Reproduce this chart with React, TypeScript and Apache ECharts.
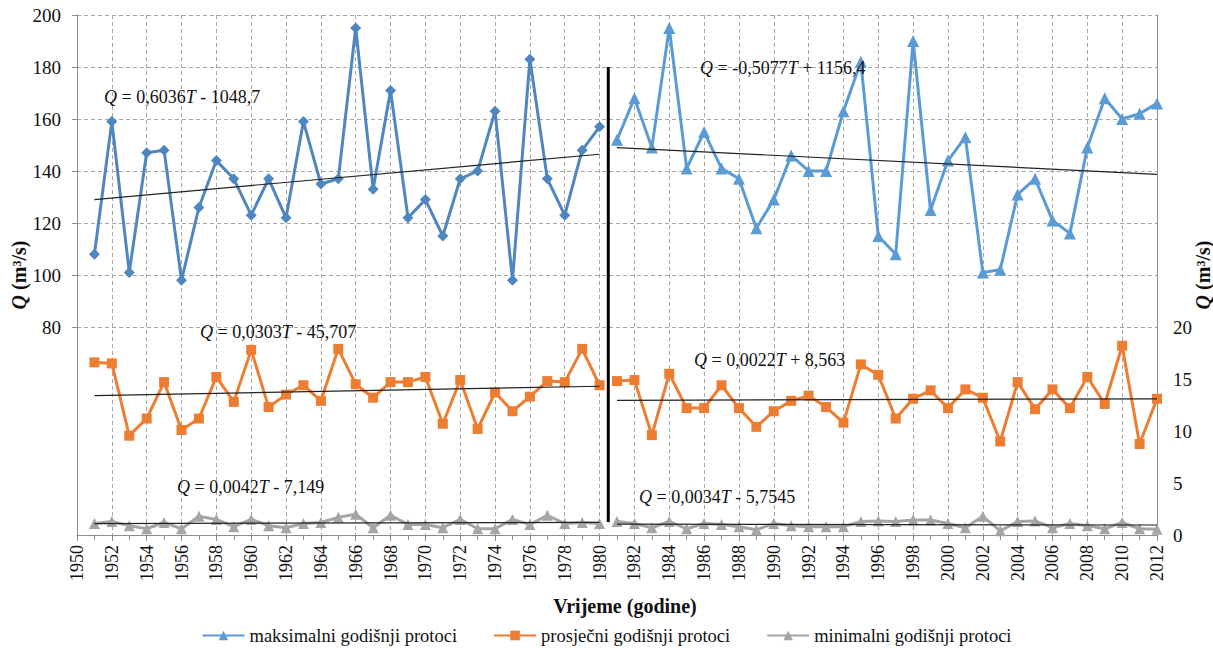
import React, { useEffect, useRef } from "react";
import * as echarts from "echarts";

const yearsA = [1951, 1952, 1953, 1954, 1955, 1956, 1957, 1958, 1959, 1960, 1961, 1962, 1963, 1964, 1965, 1966, 1967, 1968, 1969, 1970, 1971, 1972, 1973, 1974, 1975, 1976, 1977, 1978, 1979, 1980];
const yearsB = [1981, 1982, 1983, 1984, 1985, 1986, 1987, 1988, 1989, 1990, 1991, 1992, 1993, 1994, 1995, 1996, 1997, 1998, 1999, 2000, 2001, 2002, 2003, 2004, 2005, 2006, 2007, 2008, 2009, 2010, 2011, 2012];

const maxA = [108, 159, 101, 147, 148, 98, 126, 144, 137, 123, 137, 122, 159, 135, 137, 195, 133, 171, 122, 129, 115, 137, 140, 163, 98, 183, 137, 123, 148, 157];
const maxB = [152, 168, 149, 195, 141, 155, 141, 137, 118, 129, 146, 140, 140, 163, 182, 115, 108, 190, 125, 144, 153, 101, 102, 131, 137, 121, 116, 149, 168, 160, 162, 166];
const avgA = [16.6, 16.5, 9.55, 11.2, 14.7, 10.1, 11.2, 15.2, 12.8, 17.8, 12.3, 13.5, 14.4, 12.9, 17.9, 14.5, 13.2, 14.7, 14.7, 15.2, 10.7, 14.9, 10.2, 13.7, 11.9, 13.3, 14.8, 14.7, 17.9, 14.4];
const avgB = [14.8, 14.9, 9.6, 15.5, 12.2, 12.2, 14.4, 12.2, 10.4, 11.9, 12.9, 13.4, 12.3, 10.8, 16.4, 15.4, 11.2, 13.1, 13.9, 12.2, 14.0, 13.2, 9.0, 14.7, 12.1, 14.0, 12.2, 15.2, 12.6, 18.2, 8.75, 13.1];
const minA = [1.1, 1.3, 0.9, 0.6, 1.2, 0.6, 1.8, 1.5, 0.8, 1.5, 0.9, 0.7, 1.1, 1.2, 1.7, 2.0, 0.7, 1.9, 1.0, 1.0, 0.7, 1.5, 0.6, 0.6, 1.5, 1.0, 1.9, 1.1, 1.2, 1.1];
const minB = [1.3, 1.1, 0.7, 1.3, 0.6, 1.1, 1.0, 0.8, 0.5, 1.1, 0.9, 0.8, 0.8, 0.8, 1.3, 1.35, 1.3, 1.45, 1.45, 1.1, 0.7, 1.8, 0.4, 1.3, 1.35, 0.7, 1.1, 0.9, 0.6, 1.2, 0.6, 0.55];

const divider = { year: 1980.5, from: 180, to: 5 };

const equations = [
  "{i|Q} = 0,6036{i|T} - 1048,7",
  "{i|Q} = -0,5077{i|T} + 1156,4",
  "{i|Q} = 0,0303{i|T} - 45,707",
  "{i|Q} = 0,0022{i|T} + 8,563",
  "{i|Q} = 0,0042{i|T} - 7,149",
  "{i|Q} = 0,0034{i|T} - 5,7545",
];

const NAME_MAX = "maksimalni godišnji protoci";
const NAME_AVG = "prosječni godišnji protoci";
const NAME_MIN = "minimalni godišnji protoci";

const FONT = "Liberation Serif";

function pairs(xs: number[], ys: number[]) {
  return xs.map((x, i) => [x, ys[i]]);
}

function trend(xs: number[], ys: number[]) {
  const n = xs.length;
  const mx = xs.reduce((a, b) => a + b, 0) / n;
  const my = ys.reduce((a, b) => a + b, 0) / n;
  let sxy = 0;
  let sxx = 0;
  for (let i = 0; i < n; i++) {
    sxy += (xs[i] - mx) * (ys[i] - my);
    sxx += (xs[i] - mx) * (xs[i] - mx);
  }
  const b = sxy / sxx;
  const a = my - b * mx;
  const x0 = xs[0];
  const x1 = xs[n - 1];
  return [
    [x0, a + b * x0],
    [x1, a + b * x1],
  ];
}

export default function App() {
  const ref = useRef<HTMLDivElement>(null);

  useEffect(() => {
    if (!ref.current) return;
    const chart = echarts.init(ref.current, null, { renderer: "svg" });

    const lineSeries = (name: string, data: any[], yAxisIndex: number, color: string, symbol: string, symbolSize: number) => ({
      type: "line",
      name,
      data,
      yAxisIndex,
      color,
      symbol,
      symbolSize,
      showAllSymbol: true,
      lineStyle: { width: 3, color },
      itemStyle: { color },
      z: 3,
    });

    const trendSeries = (xs: number[], ys: number[], yAxisIndex: number) => ({
      type: "line",
      name: "trend",
      data: trend(xs, ys),
      yAxisIndex,
      symbol: "none",
      lineStyle: { width: 1.2, color: "#222" },
      z: 4,
      silent: true,
    });

    const eqText = (text: string, x: number, y: number) => ({
      type: "text",
      x,
      y,
      z: 10,
      style: {
        text,
        fontFamily: FONT,
        fontSize: 18,
        fill: "#111",
        verticalAlign: "middle",
        rich: {
          i: { fontStyle: "italic", fontFamily: FONT, fontSize: 18, fill: "#111" },
        },
      },
    });

    const axisName = {
      fontFamily: FONT,
      fontSize: 20,
      fontWeight: "bold",
      color: "#111",
      rich: {
        i: { fontStyle: "italic", fontWeight: "bold", fontFamily: FONT, fontSize: 20, color: "#111" },
      },
    };

    chart.setOption({
      animation: false,
      backgroundColor: "#ffffff",
      textStyle: { fontFamily: FONT },
      grid: { left: 77, right: 56, top: 15, height: 520, containLabel: false, outerBoundsMode: "none" },
      legend: {
        data: [NAME_MAX, NAME_AVG, NAME_MIN],
        left: "center",
        top: 621,
        itemWidth: 42,
        itemHeight: 12,
        itemGap: 36,
        textStyle: { fontFamily: FONT, fontSize: 18.5, color: "#111" },
      },
      xAxis: {
        type: "value",
        min: 1950,
        max: 2012,
        interval: 2,
        name: "Vrijeme (godine)",
        nameLocation: "middle",
        nameGap: 61,
        nameMoveOverlap: false,
        nameTextStyle: { fontFamily: FONT, fontSize: 20, fontWeight: "bold", color: "#111", padding: [0, 0, 0, 16] },
        axisLine: { show: true, lineStyle: { color: "#8c8c8c", width: 1 } },
        axisTick: { show: true, length: 6, lineStyle: { color: "#8c8c8c" } },
        minorTick: { show: true, splitNumber: 2, length: 5, lineStyle: { color: "#8c8c8c" } },
        axisLabel: {
          rotate: 90,
          margin: 10,
          fontFamily: FONT,
          fontSize: 18,
          color: "#111",
          formatter: (v: number) => String(v),
        },
        splitLine: { show: true, lineStyle: { color: "#a6a6a6", type: [4, 3], width: 1 } },
      },
      yAxis: [
        {
          type: "value",
          min: 0,
          max: 200,
          interval: 20,
          position: "left",
          name: "{i|Q} (m³/s)",
          nameLocation: "middle",
          nameRotate: 90,
          nameGap: 48,
          nameMoveOverlap: false,
          nameTextStyle: axisName,
          axisLine: { show: true, lineStyle: { color: "#8c8c8c", width: 1 } },
          axisTick: { show: true, length: 5, lineStyle: { color: "#8c8c8c" }, customValues: [80, 100, 120, 140, 160, 180, 200] },
          axisLabel: {
            margin: 16,
            fontFamily: FONT,
            fontSize: 19,
            color: "#111",
            formatter: (v: number) => (v >= 80 ? String(v) : ""),
          },
          splitLine: { show: true, lineStyle: { color: "#a6a6a6", type: [4, 3], width: 1 } },
        },
        {
          type: "value",
          min: 0,
          max: 50,
          interval: 5,
          position: "right",
          name: "{i|Q} (m³/s)",
          nameLocation: "middle",
          nameRotate: 90,
          nameGap: 36,
          nameMoveOverlap: false,
          nameTextStyle: axisName,
          axisLine: { show: true, lineStyle: { color: "#8c8c8c", width: 1 } },
          axisTick: { show: false },
          axisLabel: {
            margin: 16,
            fontFamily: FONT,
            fontSize: 19,
            color: "#111",
            formatter: (v: number) => (v <= 20 ? String(v) : ""),
          },
          splitLine: { show: false },
        },
      ],
      series: [
        lineSeries(NAME_MAX, pairs(yearsB, maxB), 0, "#5b9bd5", "triangle", 12),
        lineSeries("max1951", pairs(yearsA, maxA), 0, "#4f86bf", "diamond", 11),
        lineSeries(NAME_AVG, pairs(yearsA, avgA), 1, "#ed7d31", "rect", 10),
        lineSeries(NAME_AVG, pairs(yearsB, avgB), 1, "#ed7d31", "rect", 10),
        lineSeries(NAME_MIN, pairs(yearsA, minA), 1, "#a5a5a5", "triangle", 11),
        lineSeries(NAME_MIN, pairs(yearsB, minB), 1, "#a5a5a5", "triangle", 11),
        trendSeries(yearsA, maxA, 0),
        trendSeries(yearsB, maxB, 0),
        trendSeries(yearsA, avgA, 1),
        trendSeries(yearsB, avgB, 1),
        trendSeries(yearsA, minA, 1),
        trendSeries(yearsB, minB, 1),
        {
          type: "line",
          name: "divider",
          data: [
            [divider.year, divider.from],
            [divider.year, divider.to],
          ],
          yAxisIndex: 0,
          symbol: "none",
          lineStyle: { width: 3, color: "#000" },
          z: 5,
          silent: true,
        },
      ],
      graphic: [
        eqText(equations[0], 104, 97),
        eqText(equations[1], 700, 68),
        eqText(equations[2], 200, 332),
        eqText(equations[3], 694, 360),
        eqText(equations[4], 177, 487),
        eqText(equations[5], 639, 497),
      ],
    });

    return () => chart.dispose();
  }, []);

  return (
    <div
      ref={ref}
      style={{ position: "fixed", left: 0, top: 0, width: 1213, height: 648, background: "#fff" }}
    />
  );
}
